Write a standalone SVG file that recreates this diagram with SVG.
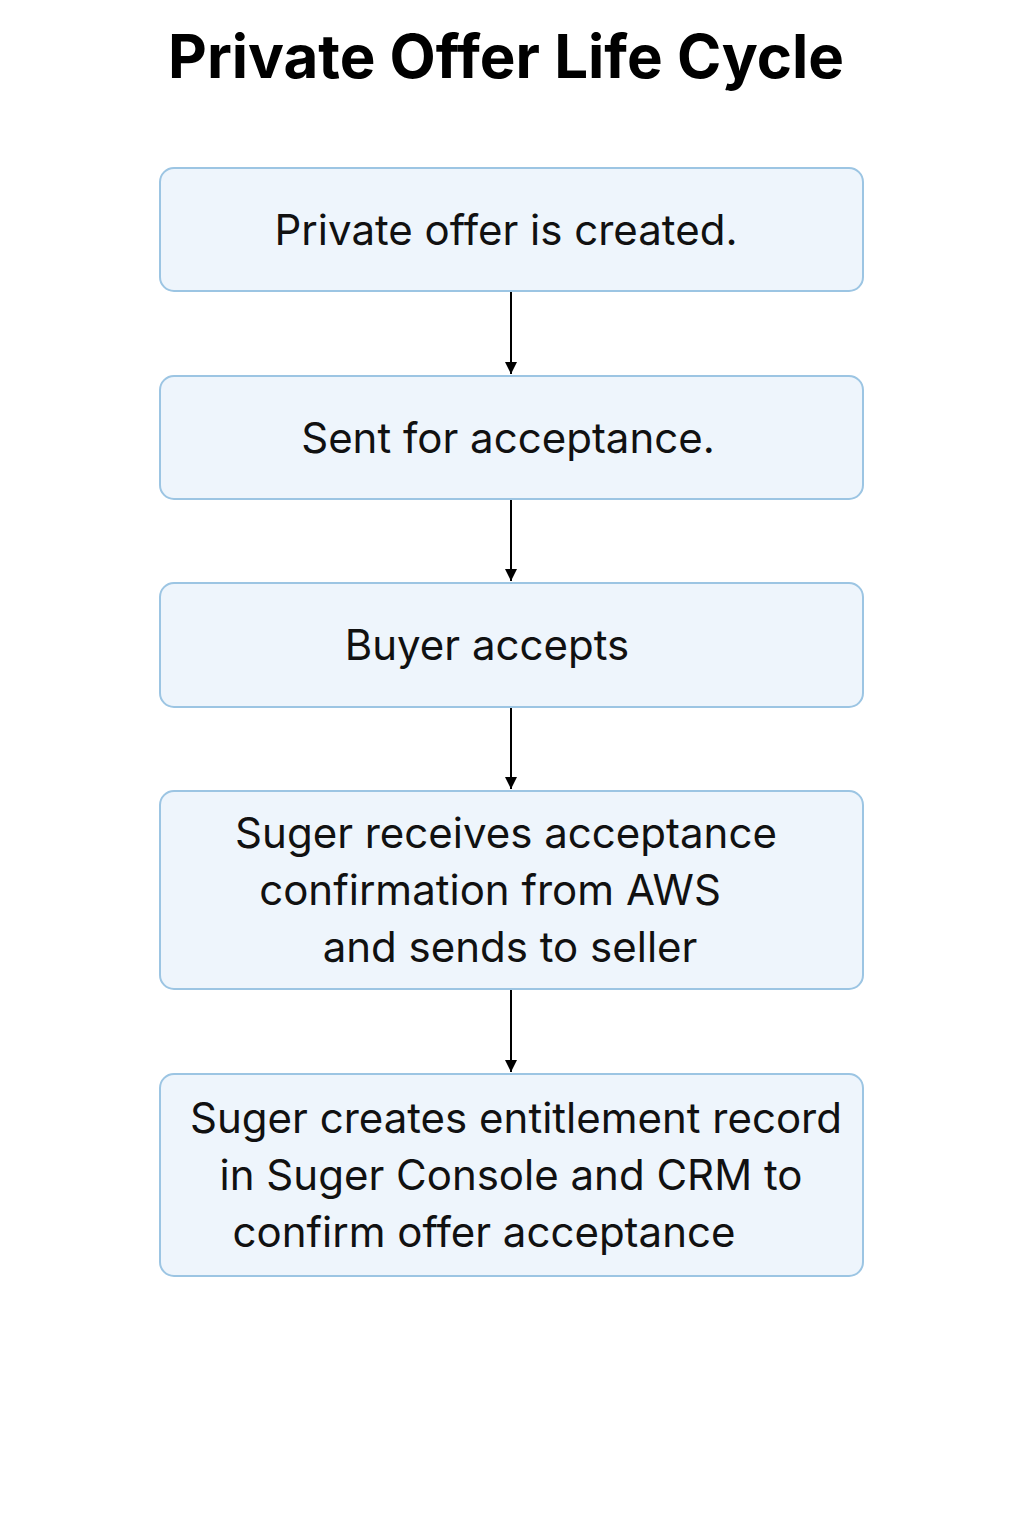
<svg xmlns="http://www.w3.org/2000/svg" width="1024" height="1536" viewBox="0 0 1024 1536">
<defs>
<style>
.box{fill:#eef5fc;stroke:#9cc5e3;stroke-width:2}
.t{font-family:Inter,"Noto Sans","Liberation Sans",sans-serif;font-size:42px;fill:#111;text-anchor:middle}
.title{font-family:Inter,"Liberation Sans",sans-serif;font-size:60px;font-weight:bold;fill:#000;text-anchor:middle}
.c{stroke:#000;stroke-width:2;fill:none;marker-end:url(#ah)}
</style>
<marker id="ah" viewBox="0 0 10 10" refX="10" refY="5" markerWidth="12" markerHeight="12" markerUnits="userSpaceOnUse" orient="auto"><path d="M0,0L10,5L0,10z" fill="#000"/></marker>
</defs>
<rect width="1024" height="1536" fill="#fff"/>
<text class="title" x="506" y="78">Private Offer Life Cycle</text>
<g id="n1"><rect class="box" x="160" y="168" width="703" height="123" rx="14"/><text class="t" x="506" y="245">Private offer is created.</text></g>
<g id="n2"><rect class="box" x="160" y="376" width="703" height="123" rx="14"/><text class="t" x="508" y="453">Sent for acceptance.</text></g>
<g id="n3"><rect class="box" x="160" y="583" width="703" height="124" rx="14"/><text class="t" x="487" y="660">Buyer accepts</text></g>
<g id="n4"><rect class="box" x="160" y="791" width="703" height="198" rx="14"/><text class="t" x="506" y="848">Suger receives acceptance</text><text class="t" x="490" y="905">confirmation from AWS</text><text class="t" x="510" y="962">and sends to seller</text></g>
<g id="n5"><rect class="box" x="160" y="1074" width="703" height="202" rx="14"/><text class="t" x="516" y="1133">Suger creates entitlement record</text><text class="t" x="511" y="1190">in Suger Console and CRM to</text><text class="t" x="484" y="1247">confirm offer acceptance</text></g>
<g id="connectors">
<line class="c" x1="511" y1="292" x2="511" y2="374"/>
<line class="c" x1="511" y1="500" x2="511" y2="581"/>
<line class="c" x1="511" y1="708" x2="511" y2="789"/>
<line class="c" x1="511" y1="990" x2="511" y2="1072"/>
</g>
</svg>
